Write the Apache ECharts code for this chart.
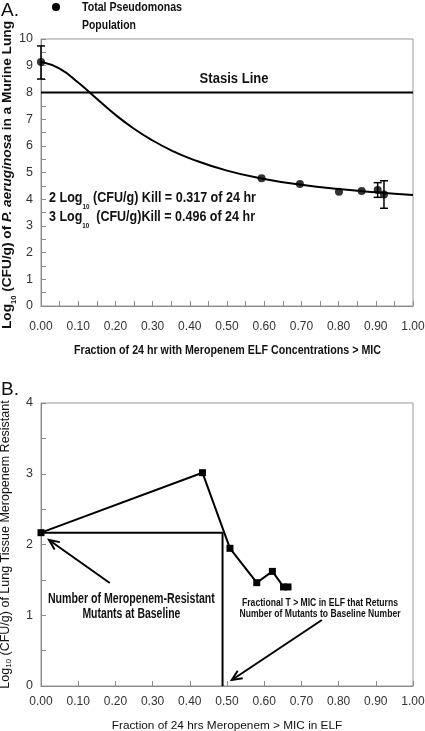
<!DOCTYPE html>
<html><head><meta charset="utf-8">
<script src="https://cdn.jsdelivr.net/npm/echarts@6/dist/echarts.min.js"></script>
<style>html,body{margin:0;padding:0;background:#fff}#c{width:425px;height:731px}</style>
</head><body><div id="c"></div>
<script>
// ---- Panel A data ----
const popX = [0, 0.593, 0.696, 0.801, 0.862, 0.905, 0.922];
const popY = [9.14, 4.78, 4.57, 4.28, 4.31, 4.34, 4.18];
const errX = [0, 0.905, 0.922];
const errLow = [8.5, 4.07, 3.66];
const errHigh = [9.74, 4.62, 4.69];
const curveX = [0, 0.05, 0.1, 0.15, 0.2, 0.25, 0.3, 0.35, 0.4, 0.5, 0.6, 0.7, 0.8, 0.9, 1.0];
const curveY = [9.15, 8.89, 8.37, 7.76, 7.16, 6.64, 6.20, 5.83, 5.53, 5.07, 4.76, 4.54, 4.38, 4.26, 4.16];
const stasisLevel = 8;
const stasisX = [0, 1];
// ---- Panel B data ----
const mutX = [0, 0.434, 0.508, 0.580, 0.622, 0.652, 0.664];
const mutY = [2.167, 3.015, 1.946, 1.46, 1.62, 1.40, 1.40];
const baselineMutants = 2.167;
const returnFraction = 0.488;
// tick labels
const xTickFmt = v => v.toFixed(2);

const SANS = "'Liberation Sans',Arial,sans-serif";
const gray = '#8a8a8a';

function axisX(grid, name, gap, minor) {
  return {
    type: 'value', gridIndex: grid, min: 0, max: 1, interval: 0.1,
    axisLine: {show: true, lineStyle: {color: gray, width: 1}},
    axisTick: {show: true, inside: true, length: 5, lineStyle: {color: gray}},
    minorTick: {show: minor, splitNumber: 2, length: 5, lineStyle: {color: gray}},
    splitLine: {show: false},
    axisLabel: {formatter: xTickFmt, color: '#333', fontFamily: SANS, fontSize: 12, margin: grid === 0 ? 15 : 10},
    name: name, nameLocation: 'middle', nameGap: gap,
    nameTextStyle: {color: '#111', fontFamily: SANS, fontSize: 11.8}
  };
}
function axisY(grid, max, name, rich, gap) {
  return {
    type: 'value', gridIndex: grid, min: 0, max: max, interval: 1,
    axisLine: {show: true, lineStyle: {color: gray, width: 1}},
    axisTick: {show: true, inside: true, length: 5, lineStyle: {color: gray}},
    minorTick: {show: true, splitNumber: 2, length: 5, lineStyle: {color: gray}},
    splitLine: {show: false},
    axisLabel: {color: '#333', fontFamily: SANS, fontSize: 12.5, margin: 8},
    name: name, nameLocation: 'middle', nameGap: gap, nameRotate: 90,
    nameTextStyle: {color: '#111', fontFamily: SANS, fontSize: 12.5, rich: rich}
  };
}

const richBot = {
  s: {fontSize: 8, fontFamily: SANS, color: '#111', verticalAlign: 'bottom', lineHeight: 14}
};

const option = {
  animation: false,
  backgroundColor: '#fff',
  grid: [
    {left: 41, right: 12, top: 39, height: 267, show: true, borderColor: '#999', borderWidth: 1, outerBoundsMode: 'none'},
    {left: 41, right: 12, top: 403, height: 283, show: true, borderColor: '#999', borderWidth: 1, outerBoundsMode: 'none'}
  ],
  xAxis: [
    axisX(0, '', 36, true),
    axisX(1, 'Fraction of 24 hrs Meropenem > MIC in ELF', 34, false)
  ],
  yAxis: [
    axisY(0, 10, '', null, 29),
    axisY(1, 4, 'Log{s|10} (CFU/g) of Lung Tissue Meropenem Resistant', richBot, 28)
  ],
  series: [
    {type: 'line', xAxisIndex: 0, yAxisIndex: 0, data: stasisX.map(x => [x, stasisLevel]),
     symbol: 'none', lineStyle: {color: '#000', width: 2}},
    {type: 'line', xAxisIndex: 0, yAxisIndex: 0, smooth: true, data: curveX.map((x, i) => [x, curveY[i]]),
     symbol: 'none', lineStyle: {color: '#000', width: 2}},
    {type: 'custom', xAxisIndex: 0, yAxisIndex: 0, data: errX.map((x, i) => [x, errLow[i], errHigh[i]]),
     renderItem: function (params, api) {
       const lo = api.coord([api.value(0), api.value(1)]);
       const hi = api.coord([api.value(0), api.value(2)]);
       const w = 4;
       const st = {stroke: '#000', lineWidth: 1.5};
       return {type: 'group', children: [
         {type: 'line', shape: {x1: lo[0], y1: lo[1], x2: hi[0], y2: hi[1]}, style: st},
         {type: 'line', shape: {x1: lo[0] - w, y1: lo[1], x2: lo[0] + w, y2: lo[1]}, style: st},
         {type: 'line', shape: {x1: hi[0] - w, y1: hi[1], x2: hi[0] + w, y2: hi[1]}, style: st}
       ]};
     }},
    {type: 'scatter', xAxisIndex: 0, yAxisIndex: 0, data: popX.map((x, i) => [x, popY[i]]),
     symbol: 'circle', symbolSize: 8, itemStyle: {color: '#000'}},
    // Panel B
    {type: 'line', xAxisIndex: 1, yAxisIndex: 1,
     data: [[0, baselineMutants], [returnFraction, baselineMutants], [returnFraction, 0]],
     symbol: 'none', lineStyle: {color: '#000', width: 2}},
    {type: 'line', xAxisIndex: 1, yAxisIndex: 1, data: mutX.map((x, i) => [x, mutY[i]]),
     symbol: 'rect', symbolSize: 7, itemStyle: {color: '#000'}, lineStyle: {color: '#000', width: 2}}
  ]
};

const chart = echarts.init(document.getElementById('c'), null, {renderer: 'canvas'});
chart.setOption(option);

const P = (g, pt) => chart.convertToPixel({gridIndex: g}, pt);
const mctx = document.createElement('canvas').getContext('2d');
function tw(str, size, weight, style) {
  mctx.font = (style || 'normal') + ' ' + (weight || 'normal') + ' ' + size + "px 'Liberation Sans', Arial, sans-serif";
  return mctx.measureText(str).width;
}
// condensed text fitted to a target width
function ctext(x, y, str, size, weight, target, align) {
  const sx = target / tw(str, size, weight);
  return {type: 'text', x: x, y: y, scaleX: sx, style: {
    text: str, fontFamily: SANS, fontWeight: weight, fontSize: size, fill: '#111',
    align: align, verticalAlign: 'middle'}};
}
function subLine(x, y, pre, sub, post, size, target) {
  const w = tw(pre, size, 'bold') + tw(sub, size * 0.5, 'bold') + tw(post, size, 'bold');
  return {type: 'text', x: x, y: y, scaleX: target / w, style: {
    text: '{b|' + pre + '}{s|' + sub + '}{b|' + post + '}',
    rich: {
      b: {fontFamily: SANS, fontWeight: 'bold', fontSize: size, fill: '#111', lineHeight: size + 4},
      s: {fontFamily: SANS, fontWeight: 'bold', fontSize: size * 0.5, fill: '#111', verticalAlign: 'bottom', lineHeight: size + 4, padding: [0, 0, -3, 0]}
    },
    align: 'left', verticalAlign: 'middle'}};
}
function yTitleTop(cx, cy, size, target) {
  const parts = [['Log', size, ''], ['10', size * 0.55, ''], [' (CFU/g) of ', size, ''],
                 ['P. aeruginosa', size, 'italic'], [' in a Murine Lung', size, '']];
  const w = parts.reduce((a, p) => a + tw(p[0], p[1], 'bold', p[2] || 'normal'), 0);
  return {type: 'text', x: cx, y: cy, rotation: Math.PI / 2, scaleX: target / w, style: {
    text: '{b|Log}{s|10}{b| (CFU/g) of }{i|P. aeruginosa}{b| in a Murine Lung}',
    rich: {
      b: {fontFamily: SANS, fontWeight: 'bold', fontSize: size, fill: '#111', lineHeight: size + 3},
      i: {fontFamily: SANS, fontWeight: 'bold', fontStyle: 'italic', fontSize: size, fill: '#111', lineHeight: size + 3},
      s: {fontFamily: SANS, fontWeight: 'bold', fontSize: size * 0.55, fill: '#111', verticalAlign: 'bottom', lineHeight: size + 3, padding: [0, 0, -2, 0]}
    },
    align: 'center', verticalAlign: 'middle'}};
}
function arrow(a, b) {
  const ang = Math.atan2(b[1] - a[1], b[0] - a[0]);
  const L = 11, w = 0.42;
  const p1 = [b[0] - L * Math.cos(ang - w), b[1] - L * Math.sin(ang - w)];
  const p2 = [b[0] - L * Math.cos(ang + w), b[1] - L * Math.sin(ang + w)];
  return [
    {type: 'line', shape: {x1: a[0], y1: a[1], x2: b[0], y2: b[1]}, style: {stroke: '#000', lineWidth: 2}},
    {type: 'polyline', shape: {points: [p1, b, p2]}, style: {stroke: '#000', lineWidth: 2, fill: null}}
  ];
}
const sl = P(0, [0.519, 8.5]);
const k2 = P(0, [0.0215, 4.045]);
const k3 = P(0, [0.0215, 3.33]);
const t1 = P(1, [0.243, 1.226]);
const t1b = P(1, [0.243, 1.018]);
const t2 = P(1, [0.75, 1.178]);
const t2b = P(1, [0.75, 1.018]);
const xt = P(0, [0.5, 0]);
const graphics = [
  {type: 'text', left: 1, top: 1, style: {text: 'A.', fontFamily: SANS, fontSize: 19, fill: '#111'}},
  {type: 'text', left: 1, top: 380, style: {text: 'B.', fontFamily: SANS, fontSize: 19, fill: '#111'}},
  {type: 'circle', shape: {cx: 56, cy: 7, r: 4}, style: {fill: '#000'}},
  ctext(82, 8, 'Total Pseudomonas', 12.5, 'bold', 100, 'left'),
  ctext(82, 26, 'Population', 12.5, 'bold', 54, 'left'),
  ctext(sl[0], sl[1], 'Stasis Line', 14.5, 'bold', 69, 'center'),
  subLine(k2[0], k2[1], '2 Log', '10', ' (CFU/g) Kill = 0.317 of 24 hr', 14.5, 207),
  subLine(k3[0], k3[1], '3 Log', '10', '  (CFU/g)Kill = 0.496 of 24 hr', 14.5, 206),
  ctext(xt[0] + 0.5, xt[1] + 44, 'Fraction of 24 hr with Meropenem ELF Concentrations > MIC', 13, 'bold', 307, 'center'),
  ctext(t1[0], t1[1], 'Number of Meropenem-Resistant', 14, 'bold', 167, 'center'),
  ctext(t1b[0], t1b[1], 'Mutants at Baseline', 14, 'bold', 98, 'center'),
  ctext(t2[0], t2[1], 'Fractional T > MIC in ELF that Returns', 10.5, 'bold', 156, 'center'),
  ctext(t2b[0], t2b[1], 'Number of Mutants to Baseline Number', 10.5, 'bold', 161, 'center'),
  yTitleTop(8, 175, 12.5, 308)
].concat(arrow(P(1, [0.185, 1.456]), P(1, [0.0215, 2.064])))
 .concat(arrow(P(1, [0.755, 0.933]), P(1, [0.513, 0.085])));
chart.setOption({graphic: graphics});
</script>
</body></html>
